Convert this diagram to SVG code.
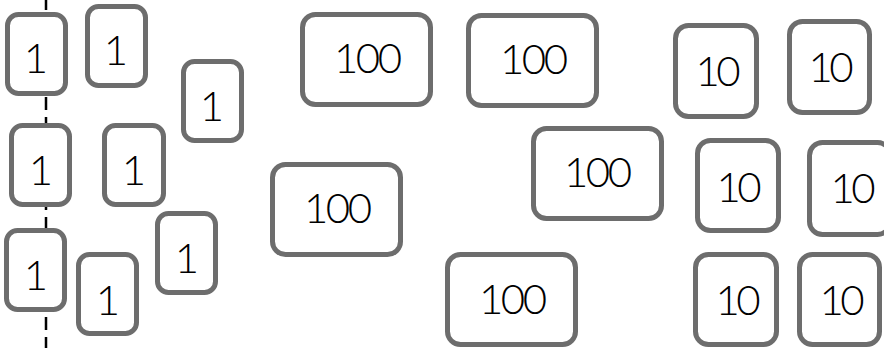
<svg xmlns="http://www.w3.org/2000/svg" width="884" height="348" viewBox="0 0 884 348">
<style>
rect{fill:#fff;stroke:#6d6d6d;stroke-width:5}
text{font-family:Lato,"Open Sans",sans-serif;font-weight:300;font-size:42px;fill:#000;text-anchor:middle}
.guide{stroke:#000;stroke-width:2.5;stroke-dasharray:13 7;stroke-dashoffset:3;fill:none}
</style>
<g id="connectors">
<line class="guide" x1="46" y1="0" x2="46" y2="348"/>
</g>
<g id="one-a"><rect x="7.5" y="14.5" width="58" height="79" rx="11"/><text x="36" y="73">1</text></g>
<g id="one-b"><rect x="87.5" y="6.5" width="58" height="79" rx="11"/><text x="116" y="65">1</text></g>
<g id="one-c"><rect x="183.5" y="61.5" width="58" height="79" rx="11"/><text x="212" y="121">1</text></g>
<g id="one-d"><rect x="11.5" y="125.5" width="58" height="79" rx="11"/><text x="41" y="185">1</text></g>
<g id="one-e"><rect x="104.5" y="125.5" width="59" height="79" rx="11"/><text x="134" y="185">1</text></g>
<g id="one-f"><rect x="157.5" y="213.5" width="58" height="79" rx="11"/><text x="187" y="273">1</text></g>
<g id="one-g"><rect x="6.5" y="230.5" width="58" height="79" rx="11"/><text x="36" y="290">1</text></g>
<g id="one-h"><rect x="78.5" y="254.5" width="58" height="79" rx="11"/><text x="108" y="315">1</text></g>
<g id="hundred-a"><rect x="302.5" y="14.5" width="128" height="90" rx="13"/><text x="368" y="73" textLength="68">100</text></g>
<g id="hundred-b"><rect x="272.5" y="164.5" width="128" height="90" rx="13"/><text x="338" y="223" textLength="68">100</text></g>
<g id="hundred-c"><rect x="468.5" y="15.5" width="128" height="90" rx="13"/><text x="534" y="74" textLength="68">100</text></g>
<g id="hundred-d"><rect x="533.5" y="128.5" width="128" height="90" rx="13"/><text x="598" y="187" textLength="68">100</text></g>
<g id="hundred-e"><rect x="447.5" y="254.5" width="128" height="90" rx="13"/><text x="513" y="314" textLength="68">100</text></g>
<g id="ten-a"><rect x="675.5" y="25.5" width="81" height="91" rx="13"/><text x="718" y="86" textLength="45">10</text></g>
<g id="ten-b"><rect x="789.5" y="21.5" width="80" height="91" rx="13"/><text x="831" y="82" textLength="45">10</text></g>
<g id="ten-c"><rect x="697.5" y="140.5" width="81" height="90" rx="13"/><text x="739" y="202" textLength="45">10</text></g>
<g id="ten-d"><rect x="809.5" y="142.5" width="81" height="92" rx="13"/><text x="853" y="203" textLength="45">10</text></g>
<g id="ten-e"><rect x="695.5" y="254.5" width="81" height="90" rx="13"/><text x="738" y="315" textLength="45">10</text></g>
<g id="ten-f"><rect x="799.5" y="254.5" width="80" height="90" rx="13"/><text x="842" y="315" textLength="45">10</text></g>
</svg>
